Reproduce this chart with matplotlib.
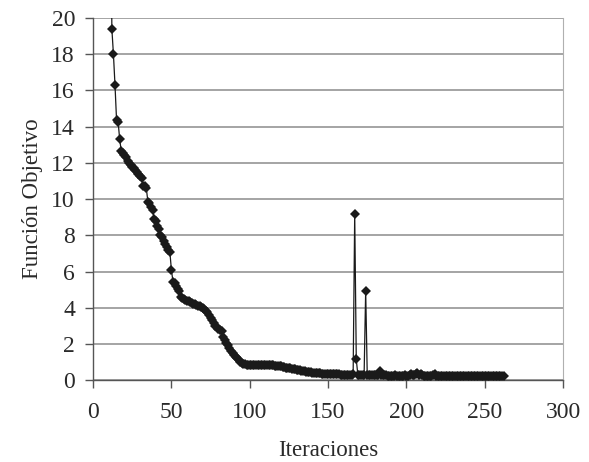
import matplotlib
matplotlib.use("Agg")
import matplotlib.pyplot as plt

# objective value per iteration (first iterations are above the plotted range)
first_iter = 11
objective = [
    30.0, 19.4, 18.0, 16.3, 14.35, 14.25, 13.3, 12.65, 12.55, 12.45,
    12.35, 12.1, 12.0, 11.9, 11.8, 11.7, 11.6, 11.5, 11.4, 11.3,
    11.15, 10.75, 10.7, 10.6, 9.85, 9.8, 9.55, 9.4, 8.9, 8.8,
    8.5, 8.35, 8.0, 7.9, 7.7, 7.5, 7.35, 7.2, 7.1, 6.1,
    5.45, 5.35, 5.2, 5.05, 4.9, 4.6, 4.55, 4.5, 4.45, 4.4,
    4.35, 4.3, 4.25, 4.2, 4.2, 4.15, 4.1, 4.1, 4.05, 4.0,
    3.95, 3.85, 3.75, 3.6, 3.45, 3.3, 3.15, 3.0, 2.95, 2.85,
    2.8, 2.7, 2.4, 2.2, 2.05, 1.95, 1.8, 1.6, 1.5, 1.4,
    1.3, 1.2, 1.1, 1.0, 0.95, 0.9, 0.88, 0.86, 0.85, 0.86,
    0.84, 0.85, 0.86, 0.84, 0.85, 0.83, 0.85, 0.84, 0.86, 0.83,
    0.84, 0.83, 0.82, 0.84, 0.82, 0.8, 0.81, 0.79, 0.78, 0.76,
    0.74, 0.72, 0.7, 0.69, 0.67, 0.65, 0.63, 0.61, 0.6, 0.58,
    0.56, 0.54, 0.52, 0.5, 0.49, 0.47, 0.46, 0.44, 0.43, 0.42,
    0.41, 0.4, 0.39, 0.38, 0.38, 0.37, 0.36, 0.36, 0.35, 0.35,
    0.34, 0.34, 0.33, 0.33, 0.33, 0.32, 0.32, 0.31, 0.31, 0.31,
    0.3, 0.3, 0.3, 0.3, 0.31, 0.35, 9.2, 1.15, 0.3, 0.3,
    0.3, 0.31, 0.3, 4.95, 0.3, 0.29, 0.29, 0.28, 0.28, 0.28,
    0.27, 0.3, 0.5, 0.3, 0.27, 0.27, 0.27, 0.26, 0.26, 0.26,
    0.26, 0.26, 0.27, 0.26, 0.25, 0.26, 0.25, 0.25, 0.27, 0.25,
    0.26, 0.3, 0.35, 0.29, 0.27, 0.32, 0.38, 0.3, 0.35, 0.28,
    0.26, 0.26, 0.25, 0.26, 0.25, 0.25, 0.3, 0.34, 0.26, 0.26,
    0.25, 0.25, 0.26, 0.25, 0.25, 0.26, 0.25, 0.25, 0.24, 0.25,
    0.25, 0.24, 0.25, 0.25, 0.24, 0.24, 0.25, 0.24, 0.24, 0.25,
    0.24, 0.24, 0.24, 0.25, 0.24, 0.24, 0.24, 0.24, 0.24, 0.24,
    0.24, 0.24, 0.24, 0.24, 0.24, 0.24, 0.24, 0.24, 0.24, 0.24,
    0.24, 0.24,
]
iterations = list(range(first_iter, first_iter + len(objective)))

x_ticks = [0, 50, 100, 150, 200, 250, 300]
y_ticks = [0, 2, 4, 6, 8, 10, 12, 14, 16, 18, 20]

plt.rcParams['font.family'] = ['Liberation Serif', 'DejaVu Serif']

fig = plt.figure(figsize=(5.89, 4.62), dpi=100)
ax = fig.add_axes([0.158, 0.177, 0.798, 0.784])

ax.plot(iterations, objective, color='#1a1a1a', lw=0.9, marker='D',
        markersize=5, markeredgewidth=0, zorder=3)

ax.set_xlim(0, 300)
ax.set_ylim(0, 20)
ax.set_xticks(x_ticks)
ax.set_yticks(y_ticks)
ax.yaxis.grid(True, color='#8c8c8c', lw=1.1)
ax.set_axisbelow(True)

for side in ['left', 'bottom']:
    ax.spines[side].set_color('#555555')
    ax.spines[side].set_linewidth(1.0)
ax.spines['top'].set_visible(False)
ax.spines['right'].set_color('#b0b0b0')

ax.tick_params(axis='both', direction='out', length=6, width=1.0,
               color='#555555', labelsize=17, labelcolor='#2a2a2a')
ax.tick_params(axis='x', pad=10)
ax.tick_params(axis='y', pad=7)

ax.set_xlabel('Iteraciones', fontsize=16.5, color='#2a2a2a', labelpad=12)
ax.set_ylabel('Función Objetivo', fontsize=16.5, color='#2a2a2a', labelpad=6)

fig.savefig('out.png', dpi=100)
